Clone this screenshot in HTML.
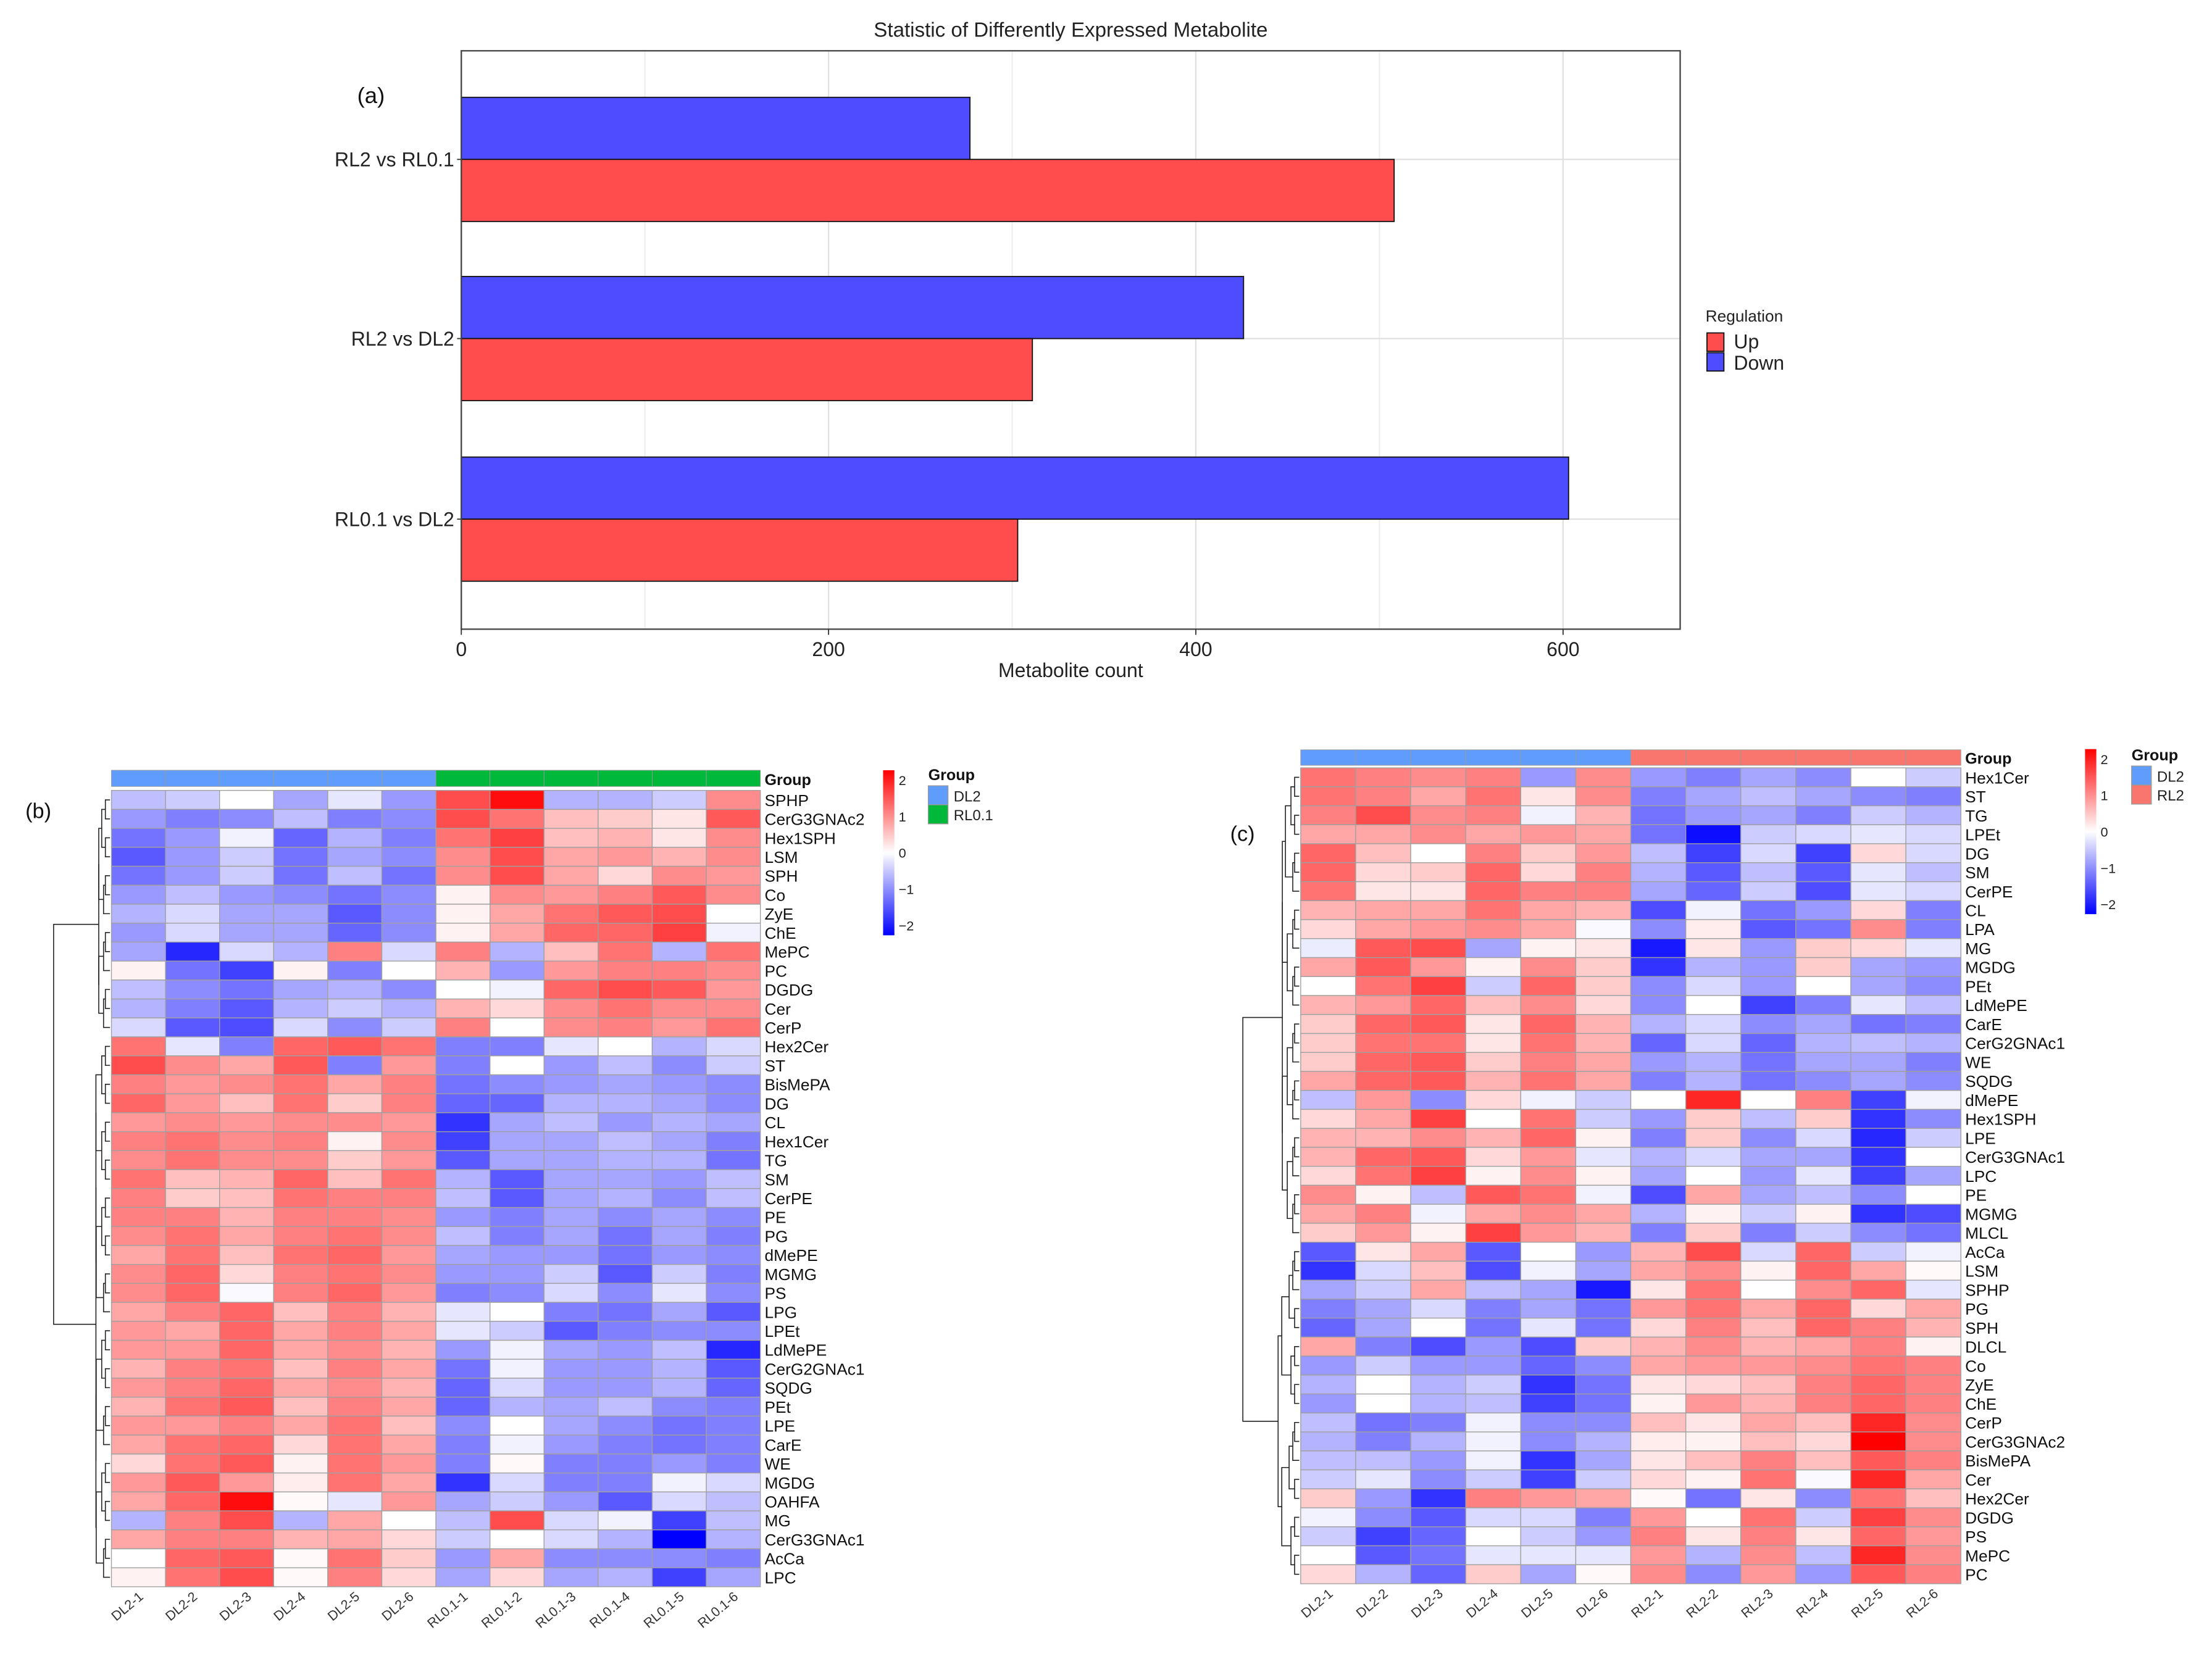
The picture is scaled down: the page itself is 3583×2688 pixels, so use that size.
<!DOCTYPE html>
<html><head><meta charset="utf-8">
<style>
html,body{margin:0;padding:0;background:#fff;}
svg{display:block;}
text{font-family:"Liberation Sans",sans-serif;}
</style></head>
<body>
<svg id="root" xmlns="http://www.w3.org/2000/svg" width="3583" height="2688" viewBox="0 0 1568 1176" preserveAspectRatio="none">
<rect x="0" y="0" width="1568" height="1176" fill="#fff"/>
<g id="barchart"></g>
<g id="hmb"></g>
<g id="hmc"></g>
</svg>
<script>
// ---------- Bar chart data ----------
const barCategories = ["RL2 vs RL0.1","RL2 vs DL2","RL0.1 vs DL2"];
const upValues = [508, 311, 303];
const downValues = [277, 426, 603];
const xTicks = [0,200,400,600];
const xMinor = [100,300,500];

// ---------- Heatmap b data ----------
const bRows = ["SPHP","CerG3GNAc2","Hex1SPH","LSM","SPH","Co","ZyE","ChE","MePC","PC","DGDG","Cer","CerP","Hex2Cer","ST","BisMePA","DG","CL","Hex1Cer","TG","SM","CerPE","PE","PG","dMePE","MGMG","PS","LPG","LPEt","LdMePE","CerG2GNAc1","SQDG","PEt","LPE","CarE","WE","MGDG","OAHFA","MG","CerG3GNAc1","AcCa","LPC"];
const bCols = ["DL2-1","DL2-2","DL2-3","DL2-4","DL2-5","DL2-6","RL0.1-1","RL0.1-2","RL0.1-3","RL0.1-4","RL0.1-5","RL0.1-6"];
const bGroups = ["DL2","DL2","DL2","DL2","DL2","DL2","RL0.1","RL0.1","RL0.1","RL0.1","RL0.1","RL0.1"];
const bValues = [
[-0.5,-0.4,0,-0.7,-0.2,-0.8,1.4,1.9,-0.6,-0.6,-0.4,0.9],
[-0.8,-1.0,-0.9,-0.5,-1.0,-0.9,1.4,1.1,0.5,0.4,0.2,1.3],
[-1.1,-0.8,-0.1,-1.2,-0.6,-1.0,1.1,1.5,0.5,0.6,0.2,0.9],
[-1.3,-0.8,-0.4,-1.1,-0.7,-0.9,0.9,1.4,0.7,0.8,0.6,0.9],
[-1.1,-0.8,-0.4,-1.1,-0.5,-1.1,0.9,1.4,0.7,0.3,0.9,0.8],
[-0.8,-0.5,-0.8,-0.9,-1.1,-0.9,0.1,0.9,0.8,1.0,1.3,0.9],
[-0.6,-0.3,-0.7,-0.7,-1.3,-0.9,0.1,0.7,1.1,1.3,1.4,0],
[-0.8,-0.3,-0.7,-0.7,-1.2,-0.9,0.1,0.7,1.2,1.2,1.5,-0.1],
[-0.7,-1.7,-0.3,-0.6,1.0,-0.3,1.0,-0.6,0.5,1.1,-0.6,1.1],
[0.1,-1.1,-1.5,0.1,-1.0,0,0.6,-0.8,0.8,1.0,1.0,0.9],
[-0.5,-0.9,-1.1,-0.7,-0.6,-0.9,0,-0.1,1.2,1.4,1.3,0.8],
[-0.6,-1.0,-1.3,-0.6,-0.4,-0.6,0.6,0.3,0.9,1.1,0.9,0.9],
[-0.3,-1.3,-1.4,-0.3,-0.9,-0.4,1.0,0,0.9,1.0,0.8,1.1],
[1.1,-0.2,-1.0,1.2,1.3,1.1,-1.0,-1.0,-0.2,0,-0.6,-0.3],
[1.4,0.9,0.7,1.3,-1.0,0.8,-1.0,0,-0.8,-0.5,-0.9,-0.4],
[1.0,0.8,0.9,1.1,0.7,1.0,-1.1,-0.9,-0.8,-0.7,-0.8,-0.9],
[1.2,0.8,0.5,1.1,0.4,1.0,-1.2,-1.2,-0.6,-0.6,-0.7,-0.9],
[0.8,0.9,0.8,0.9,0.9,0.8,-1.6,-0.7,-0.5,-0.8,-0.6,-0.7],
[1.0,1.1,0.9,1.0,0.1,0.9,-1.5,-0.7,-0.7,-0.5,-0.7,-1.0],
[0.9,1.1,0.9,0.9,0.4,0.8,-1.3,-0.7,-0.7,-0.6,-0.6,-1.1],
[1.1,0.5,0.6,1.2,0.5,1.1,-0.6,-1.3,-0.7,-0.7,-0.8,-0.5],
[1.0,0.4,0.5,1.1,1.0,1.0,-0.5,-1.3,-0.7,-0.6,-0.9,-0.5],
[1.0,1.0,0.6,1.0,1.0,0.9,-0.8,-1.0,-0.7,-0.9,-0.7,-0.9],
[0.9,1.1,0.7,1.0,1.1,0.9,-0.5,-1.0,-0.7,-1.1,-0.7,-1.0],
[0.7,1.1,0.5,1.1,1.2,0.8,-0.7,-0.8,-0.8,-1.1,-0.8,-0.9],
[0.9,1.2,0.3,1.0,1.1,0.9,-0.8,-0.8,-0.4,-1.3,-0.4,-1.0],
[0.9,1.2,-0.05,1.0,1.2,0.8,-1.0,-0.9,-0.3,-0.9,-0.2,-0.9],
[0.7,1.0,1.2,0.5,1.0,0.6,-0.2,0,-1.0,-1.1,-0.7,-1.3],
[0.8,0.7,1.2,0.7,1.0,0.7,-0.2,-0.4,-1.3,-1.0,-0.9,-0.9],
[0.8,0.8,1.2,0.7,0.9,0.6,-0.8,-0.1,-0.7,-0.8,-0.5,-1.7],
[0.6,1.0,1.1,0.5,1.0,0.7,-1.1,-0.1,-0.8,-0.8,-0.6,-1.3],
[0.8,1.0,1.2,0.7,0.9,0.6,-1.2,-0.3,-0.8,-0.8,-0.6,-1.2],
[0.6,1.1,1.3,0.5,1.0,0.7,-1.2,-0.6,-0.7,-0.5,-0.9,-1.0],
[0.8,0.8,1.0,0.7,1.1,0.5,-0.9,0,-0.7,-0.9,-1.1,-1.0],
[0.7,1.1,1.2,0.3,1.1,0.7,-1.0,-0.1,-0.8,-1.0,-1.1,-1.0],
[0.3,1.1,1.3,0.1,1.1,0.8,-1.0,0.05,-1.0,-1.0,-0.8,-1.0],
[0.8,1.3,0.8,0.15,1.1,0.7,-1.6,-0.3,-1.0,-1.0,-0.1,-0.3],
[0.7,1.2,1.9,0.05,-0.2,0.8,-0.7,-0.4,-0.8,-1.3,-0.3,-0.5],
[-0.6,1.0,1.4,-0.6,0.7,0,-0.5,1.4,-0.3,-0.1,-1.5,-0.5],
[0.7,1.0,1.0,0.6,0.7,0.3,-0.4,0,-0.3,-0.6,-2.0,-0.6],
[0,1.2,1.3,0.05,1.1,0.4,-0.8,0.7,-0.9,-0.9,-0.9,-1.0],
[0.1,1.1,1.4,0.05,1.0,0.3,-0.7,0.3,-0.7,-0.6,-1.5,-0.7]
];

// ---------- Heatmap c data ----------
const cRows = ["Hex1Cer","ST","TG","LPEt","DG","SM","CerPE","CL","LPA","MG","MGDG","PEt","LdMePE","CarE","CerG2GNAc1","WE","SQDG","dMePE","Hex1SPH","LPE","CerG3GNAc1","LPC","PE","MGMG","MLCL","AcCa","LSM","SPHP","PG","SPH","DLCL","Co","ZyE","ChE","CerP","CerG3GNAc2","BisMePA","Cer","Hex2Cer","DGDG","PS","MePC","PC"];
const cCols = ["DL2-1","DL2-2","DL2-3","DL2-4","DL2-5","DL2-6","RL2-1","RL2-2","RL2-3","RL2-4","RL2-5","RL2-6"];
const cGroups = ["DL2","DL2","DL2","DL2","DL2","DL2","RL2","RL2","RL2","RL2","RL2","RL2"];
const cValues = [
[1.1,1.0,0.9,1.0,-0.8,0.9,-0.8,-1.0,-0.7,-0.9,0,-0.4],
[1.1,1.0,0.7,1.1,0.2,0.9,-1.0,-0.7,-0.5,-0.7,-0.9,-1.0],
[1.0,1.4,0.9,1.0,-0.1,0.6,-1.1,-0.8,-0.7,-1.0,-0.4,-0.6],
[0.7,0.7,0.9,0.7,0.8,0.7,-1.1,-1.9,-0.4,-0.3,-0.2,-0.3],
[1.2,0.5,0,1.0,0.4,0.8,-0.5,-1.5,-0.3,-1.5,0.3,-0.3],
[1.2,0.3,0.4,1.2,0.3,1.0,-0.6,-1.3,-0.5,-1.3,-0.2,-0.5],
[1.1,0.2,0.2,1.2,1.0,1.0,-0.7,-1.2,-0.4,-1.4,-0.2,-0.3],
[0.6,0.7,0.7,1.1,0.7,0.6,-1.4,-0.1,-1.1,-0.8,0.3,-1.0],
[0.3,0.7,0.8,0.9,0.7,-0.05,-0.9,0.15,-1.3,-1.1,0.9,-1.0],
[-0.15,1.3,1.4,-0.7,0.1,0.2,-1.8,0.2,-0.8,0.4,0.3,-0.2],
[0.7,1.3,0.8,0.1,0.9,0.4,-1.6,-0.6,-0.8,0.4,-0.7,-0.8],
[0,1.1,1.5,-0.4,1.2,0.4,-0.9,-0.3,-0.8,0,-0.7,-0.9],
[0.6,0.8,1.2,0.5,0.9,0.3,-0.9,0,-1.5,-1.0,-0.2,-0.5],
[0.4,1.2,1.3,0.2,1.2,0.6,-0.6,-0.3,-0.9,-0.7,-1.1,-1.0],
[0.4,1.1,1.1,0.2,1.1,0.6,-1.2,-0.3,-1.2,-0.6,-0.5,-0.6],
[0.4,1.2,1.3,0.4,1.0,0.7,-0.8,-0.6,-1.1,-0.7,-0.7,-1.0],
[0.7,1.2,1.3,0.6,1.1,0.7,-1.0,-0.6,-1.1,-0.9,-0.7,-0.9],
[-0.5,0.8,-0.9,0.3,-0.1,-0.4,0,1.7,0,1.0,-1.5,-0.1],
[0.3,0.7,1.5,0,1.1,-0.4,-0.8,0.4,-0.5,0.4,-1.6,-0.9],
[0.6,0.6,0.9,0.6,1.2,0.1,-1.0,0.4,-0.9,-0.3,-1.7,-0.4],
[0.6,1.2,1.3,0.3,0.8,-0.2,-0.6,-0.3,-0.7,-0.7,-1.6,0],
[0.3,1.1,1.5,0.1,0.9,0.1,-0.7,0,-0.8,-0.2,-1.5,-0.7],
[0.9,0.1,-0.5,1.3,1.1,-0.1,-1.4,0.7,-0.7,-0.5,-0.9,0],
[0.7,1.0,-0.1,0.7,0.9,0.7,-0.6,0.1,-0.4,0.1,-1.6,-1.4],
[0.4,0.8,0.1,1.5,0.8,0.6,-1.0,0.4,-1.0,-0.4,-0.9,-1.1],
[-1.3,0.2,0.7,-1.3,0,-0.8,0.6,1.4,-0.3,1.2,-0.4,-0.1],
[-1.6,-0.3,0.5,-1.4,-0.1,-0.7,0.7,0.9,0.1,1.2,0.7,0.05],
[-0.7,-0.4,0.7,-0.5,-0.7,-1.8,0.2,1.1,0,0.9,1.2,-0.2],
[-1.0,-0.7,-0.3,-1.0,-0.7,-1.1,0.8,1.1,0.7,1.2,0.3,0.7],
[-1.2,-0.7,0,-1.1,-0.2,-1.1,0.3,1.0,0.5,1.2,1.0,0.6],
[0.7,-1.0,-1.4,-0.8,-1.4,0.4,0.6,0.9,0.6,0.7,1.0,0.1],
[-0.8,-0.4,-0.8,-0.8,-1.2,-0.9,0.7,0.8,0.8,0.9,1.1,1.0],
[-0.6,0,-0.6,-0.4,-1.6,-1.1,0.2,0.3,0.5,1.0,1.2,1.0],
[-0.8,0,-0.6,-0.5,-1.5,-1.1,0.1,0.8,0.6,1.0,1.2,1.0],
[-0.5,-1.1,-1.0,-0.1,-0.9,-0.9,0.5,0.2,0.7,0.5,1.7,0.9],
[-0.6,-1.0,-0.6,-0.1,-0.9,-0.6,0.15,0.1,0.5,0.3,2.0,0.9],
[-0.5,-0.5,-0.8,-0.1,-1.6,-0.7,0.2,0.5,1.0,0.5,1.3,1.0],
[-0.4,-0.2,-0.9,-0.4,-1.5,-0.4,0.3,0.1,1.1,-0.05,1.7,0.7],
[0.4,-0.8,-1.6,1.0,0.8,0.7,0.05,-1.1,0.2,-0.9,1.1,0.5],
[-0.1,-0.9,-1.3,-0.3,-0.3,-1.0,0.8,0,1.1,-0.4,1.5,0.9],
[-0.4,-1.5,-1.2,0,-0.4,-0.8,1.0,0.2,1.0,0.2,1.2,0.8],
[0,-1.3,-1.1,-0.2,-0.2,-0.2,0.8,-0.6,0.9,-0.5,1.7,0.9],
[0.3,-0.6,-1.2,0.4,-0.7,0.05,0.9,-0.9,0.8,-0.8,1.3,1.0]
];
const colorTicks = [2,1,0,-1,-2];
const groupColors = {"DL2":"#5f9cfb","RL0.1":"#00b83a","RL2":"#f8766d"};

const NS = "http://www.w3.org/2000/svg";
function mk(parent, tag, attrs, txt){
  const e = document.createElementNS(NS, tag);
  for (const k in attrs) e.setAttribute(k, attrs[k]);
  if (txt !== undefined) e.textContent = txt;
  parent.appendChild(e);
  return e;
}
function heatColor(v){
  v = Math.max(-2, Math.min(2, v));
  const t = Math.abs(v)/2;
  const c = Math.round(255*(1-t));
  return v >= 0 ? `rgb(255,${c},${c})` : `rgb(${c},${c},255)`;
}

// ================= Bar chart =================
(function(){
  const g = document.getElementById('barchart');
  const L = 327, R = 1191, T = 36, B = 446;
  const x = v => L + v*(781/600);
  const centers = [113, 240, 368];
  const bh = 44;
  const t = mk(g,'text',{x:759,y:26,'text-anchor':'middle','font-size':14.5,fill:'#222'},'Statistic of Differently Expressed Metabolite');
   
  const pl = mk(g,'text',{x:263,y:73,'text-anchor':'middle','font-size':16,fill:'#111','font-family':'"Liberation Serif",serif'},'(a)');
   
  xMinor.forEach(v=>{ const l=mk(g,'line',{x1:x(v),x2:x(v),y1:T,y2:B,stroke:'#ececec','stroke-width':0.8});
      });
  xTicks.forEach(v=>{ const l=mk(g,'line',{x1:x(v),x2:x(v),y1:T,y2:B,stroke:'#e0e0e0','stroke-width':1});
      });
  centers.forEach(c=>{ const l=mk(g,'line',{x1:L,x2:R,y1:c,y2:c,stroke:'#e0e0e0','stroke-width':1});
      });
  barCategories.forEach((cat,i)=>{
    const c = centers[i];
    const d = mk(g,'rect',{x:x(0),y:c-bh,width:x(downValues[i])-x(0),height:bh,fill:'#4d4dff',stroke:'#111','stroke-width':0.8});
     
    const u = mk(g,'rect',{x:x(0),y:c,width:x(upValues[i])-x(0),height:bh,fill:'#ff4d4d',stroke:'#111','stroke-width':0.8});
     
    const lb = mk(g,'text',{x:L-5,y:c+5,'text-anchor':'end','font-size':14,fill:'#222'},cat);
     
    const tk = mk(g,'line',{x1:L-3,x2:L,y1:c,y2:c,stroke:'#333','stroke-width':0.8});
     
  });
  const fr = mk(g,'rect',{x:L,y:T,width:R-L,height:B-T,fill:'none',stroke:'#444','stroke-width':1});
   
  xTicks.forEach(v=>{
    const tk=mk(g,'line',{x1:x(v),x2:x(v),y1:B,y2:B+4,stroke:'#333','stroke-width':0.8});
     
    const tl=mk(g,'text',{x:x(v),y:B+19,'text-anchor':'middle','font-size':14,fill:'#222'},String(v));
     
  });
  const xt = mk(g,'text',{x:759,y:480,'text-anchor':'middle','font-size':14,fill:'#222'},'Metabolite count');
   
  const lg = mk(g,'g',{});
   
  const lt = mk(lg,'text',{x:1209,y:228,'font-size':11.5,fill:'#222'},'Regulation');
   
  const u1 = mk(lg,'rect',{x:1210,y:236,width:12,height:13,fill:'#ff4d4d',stroke:'#111','stroke-width':0.8});
   
  const d1 = mk(lg,'rect',{x:1210,y:250,width:12,height:13,fill:'#4d4dff',stroke:'#111','stroke-width':0.8});
   
  const ut = mk(lg,'text',{x:1229,y:247,'font-size':14,fill:'#222'},'Up');
   
  const dt = mk(lg,'text',{x:1229,y:262,'font-size':14,fill:'#222'},'Down');
   
})();

// ================= Heatmaps =================
function dendro(g, rows, x0, rowTop, rh, xLeaf, xJoin){
  // simple balanced tree over contiguous rows; returns {y, x}
  function build(a, b, depthX){
    if (a === b) return {y: rowTop + (a+0.5)*rh, x: xLeaf};
    const m = Math.floor((a+b)/2);
    const span = b - a;
    const h = Math.max(xLeaf - 2 - span*1.3, depthX);
    const l = build(a, m, depthX), r = build(m+1, b, depthX);
    mk(g,'path',{d:`M${l.x},${l.y}H${h}V${r.y}H${r.x}`,fill:'none',stroke:'#222','stroke-width':0.7});
    return {y:(l.y+r.y)/2, x:h};
  }
  return build;
}
function drawHeatmap(cfg){
  const g = document.getElementById(cfg.id);
  const {rows, cols, groups, values, L, R, top, rh, gTop, gH} = cfg;
  const cw = (R-L)/cols.length;
  // group bar
  groups.forEach((gr,j)=>{
    const r = mk(g,'rect',{x:L+j*cw,y:gTop,width:cw,height:gH,fill:groupColors[gr],stroke:'#9a9a9a','stroke-width':0.4});
     
  });
  const gl = mk(g,'text',{x:R+3,y:gTop+gH-1,'font-size':11,'font-weight':'bold',fill:'#111'},'Group');
   
  // cells
  values.forEach((row,i)=>{
    row.forEach((v,j)=>{
      const c = mk(g,'rect',{x:L+j*cw,y:top+i*rh,width:cw,height:rh,fill:heatColor(v),stroke:'#a0a0a0','stroke-width':0.6});
       
    });
    const t = mk(g,'text',{x:R+3,y:top+(i+0.5)*rh+4.3,'font-size':cfg.fs,fill:'#111'},rows[i]);
     
  });
  cols.forEach((c,j)=>{
    const cx = L+(j+0.5)*cw+4, cy = top+rows.length*rh+8;
    const t = mk(g,'text',{x:cx,y:cy,'text-anchor':'end','font-size':9.5,fill:'#333',transform:`rotate(-40 ${cx} ${cy})`},c);
     
  });
  // dendrogram
  const dg = mk(g,'g',{});
   
  const build = dendro(dg, rows, 0, top, rh, L-1, 0);
  const s = cfg.split;
  const a = (function(){ const b=build; return null;})();
  function sub(a,b,jx){
    // build subtree then clamp its root to jx
    const n = build(a,b,jx+2);
    return n;
  }
  const up = sub(0, s-1, cfg.joinTop);
  const lo = sub(s, rows.length-1, cfg.joinBot);
  mk(dg,'path',{d:`M${up.x},${up.y}H${cfg.rootX}V${lo.y}H${lo.x}`,fill:'none',stroke:'#222','stroke-width':0.7});
  // colour bar
  const cb = cfg.cb;
  const defs = mk(g,'defs',{});
  const lgid = cfg.id+'grad';
  const gr = mk(defs,'linearGradient',{id:lgid,x1:0,y1:0,x2:0,y2:1});
  mk(gr,'stop',{offset:'0%','stop-color':'#ff0000'});
  mk(gr,'stop',{offset:'50%','stop-color':'#ffffff'});
  mk(gr,'stop',{offset:'100%','stop-color':'#0000ff'});
  const bar = mk(g,'rect',{x:cb.x,y:cb.y,width:8,height:cb.h,fill:`url(#${lgid})`});
   
  colorTicks.forEach(v=>{
    const yy = cb.y + cb.h*(0.06 + (2-v)/4*0.88);
    const t = mk(g,'text',{x:cb.x+11,y:yy+3.5,'font-size':9.5,fill:'#222'},v<0?('\u2212'+(-v)):String(v));
     
  });
  // group legend
  const lx = cfg.lg.x, ly = cfg.lg.y;
  const lt = mk(g,'text',{x:lx,y:ly,'font-size':11,'font-weight':'bold',fill:'#111'},'Group');
   
  const uniq = [...new Set(groups)];
  uniq.forEach((u,k)=>{
    const r = mk(g,'rect',{x:lx,y:ly+4+k*13.5,width:14,height:13.5,fill:groupColors[u],stroke:'#999','stroke-width':0.6});
     
    const t = mk(g,'text',{x:lx+18,y:ly+15+k*13.5,'font-size':10.5,fill:'#222'},u);
     
  });
  const p = mk(g,'text',{x:cfg.pl.x,y:cfg.pl.y,'font-size':15,fill:'#111','font-family':'"Liberation Serif",serif'},cfg.pl.t);
   
}

drawHeatmap({id:'hmb', rows:bRows, cols:bCols, groups:bGroups, values:bValues,
  L:79, R:539, top:560.3, rh:13.44, gTop:546, gH:11.5, fs:11.5, split:13,
  joinTop:68, joinBot:66, rootX:38,
  cb:{x:626,y:546,h:117}, lg:{x:658,y:553}, pl:{x:18,y:580,t:'(b)'}});
drawHeatmap({id:'hmc', rows:cRows, cols:cCols, groups:cGroups, values:cValues,
  L:922, R:1390, top:544.3, rh:13.45, gTop:531.5, gH:11, fs:11.5, split:25,
  joinTop:907, joinBot:904, rootX:881,
  cb:{x:1478,y:531,h:117}, lg:{x:1511,y:539}, pl:{x:872,y:596,t:'(c)'}});
</script>
</body></html>
